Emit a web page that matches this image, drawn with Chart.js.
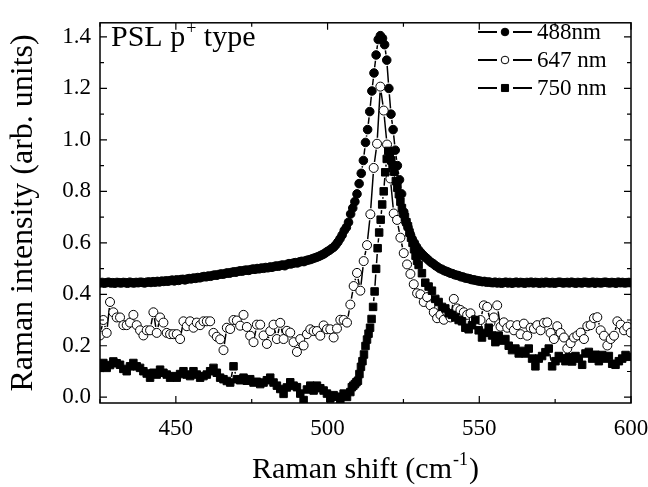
<!DOCTYPE html>
<html>
<head>
<meta charset="utf-8">
<script src="https://cdn.jsdelivr.net/npm/chart.js@4.4.1/dist/chart.umd.min.js"></script>
<style>
  html, body { margin: 0; padding: 0; background: #fff; }
  #wrap { width: 648px; height: 487px; }
</style>
</head>
<body>
<div id="wrap"><canvas id="ramanChart" width="648" height="487"></canvas></div>
<script>
// Raman spectra of p+ porous silicon at three excitation wavelengths.
var seriesLabels = ['488nm', '647 nm', '750 nm'];

// 488 nm: sampled every 0.7 cm-1 from 425 cm-1
var start488 = 425, step488 = 0.7;
var int488 = [
  0.444,0.446,0.443,0.445,0.447,0.444,0.445,0.443,0.446,0.445,
  0.444,0.446,0.445,0.443,0.447,0.445,0.444,0.446,0.445,0.447,
  0.446,0.444,0.447,0.448,0.446,0.449,0.447,0.450,0.448,0.451,
  0.450,0.452,0.451,0.453,0.455,0.452,0.456,0.454,0.457,0.458,
  0.456,0.459,0.461,0.460,0.463,0.462,0.465,0.464,0.467,0.469,
  0.468,0.471,0.470,0.473,0.475,0.474,0.477,0.479,0.478,0.481,
  0.483,0.482,0.485,0.487,0.486,0.489,0.491,0.490,0.493,0.494,
  0.493,0.496,0.498,0.497,0.500,0.499,0.502,0.501,0.504,0.503,
  0.506,0.505,0.508,0.510,0.509,0.512,0.514,0.511,0.516,0.519,
  0.518,0.521,0.523,0.522,0.526,0.528,0.527,0.531,0.533,0.535,
  0.538,0.541,0.544,0.547,0.551,0.555,0.560,0.566,0.571,0.577,
  0.583,0.592,0.603,0.616,0.630,0.648,0.660,0.680,0.712,0.735,
  0.760,0.790,0.830,0.870,0.920,0.990,1.040,1.110,1.190,1.260,
  1.330,1.390,1.405,1.395,1.370,1.310,1.200,1.100,1.040,0.960,
  0.900,0.845,0.790,0.720,0.680,0.660,0.635,0.615,0.600,0.585,
  0.572,0.562,0.553,0.545,0.538,0.530,0.523,0.518,0.511,0.506,
  0.500,0.497,0.492,0.489,0.486,0.482,0.480,0.476,0.474,0.472,
  0.468,0.467,0.463,0.462,0.460,0.457,0.456,0.454,0.452,0.451,
  0.449,0.450,0.447,0.448,0.446,0.445,0.447,0.444,0.446,0.443,
  0.445,0.447,0.444,0.446,0.443,0.445,0.447,0.444,0.446,0.445,
  0.443,0.446,0.445,0.447,0.444,0.446,0.445,0.443,0.446,0.444,
  0.447,0.445,0.444,0.446,0.443,0.445,0.447,0.446,0.444,0.445,
  0.446,0.444,0.447,0.445,0.443,0.446,0.445,0.444,0.447,0.446,
  0.444,0.445,0.447,0.443,0.446,0.445,0.444,0.446,0.447,0.445,
  0.444,0.446,0.445,0.443,0.447,0.445,0.446,0.444,0.445,0.446,
  0.445
];

// 647 nm: sampled every 1.1 cm-1 from 425 cm-1
var start647 = 425, step647 = 1.1;
var int647 = [
  0.24,0.30,0.25,0.37,0.33,0.31,0.31,0.28,0.28,0.29,
  0.32,0.28,0.26,0.24,0.26,0.26,0.33,0.25,0.31,0.29,
  0.25,0.245,0.245,0.245,0.226,0.295,0.276,0.295,0.27,0.29,
  0.28,0.295,0.295,0.295,0.25,0.235,0.225,0.183,0.27,0.265,
  0.30,0.298,0.278,0.32,0.273,0.239,0.214,0.282,0.282,0.24,
  0.207,0.257,0.282,0.226,0.289,0.226,0.258,0.251,0.214,0.176,
  0.226,0.201,0.245,0.264,0.257,0.257,0.239,0.279,0.264,0.264,
  0.232,0.267,0.301,0.30,0.29,0.36,0.432,0.483,0.414,0.529,
  0.591,0.711,0.891,0.985,1.207,1.114,0.982,0.85,0.714,0.689,
  0.62,0.56,0.516,0.479,0.439,0.404,0.40,0.37,0.389,0.357,
  0.33,0.307,0.32,0.301,0.33,0.31,0.382,0.345,0.339,0.33,
  0.32,0.326,0.30,0.28,0.30,0.357,0.351,0.29,0.31,0.357,
  0.274,0.291,0.27,0.28,0.26,0.28,0.245,0.286,0.239,0.27,
  0.266,0.28,0.26,0.289,0.291,0.25,0.226,0.276,0.25,0.232,
  0.189,0.21,0.232,0.24,0.251,0.226,0.276,0.28,0.307,0.311,
  0.26,0.239,0.201,0.226,0.239,0.295,0.282,0.26,0.274,0.251
];

// 750 nm: finer sampling across the peak
var shift750 = [
  425.0,426.1,427.2,428.3,429.4,430.5,431.6,432.7,433.8,434.9,
  436.0,437.1,438.2,439.3,440.4,441.5,442.6,443.7,444.8,445.9,
  447.0,448.1,449.2,450.3,451.4,452.5,453.6,454.7,455.8,456.9,
  458.0,459.1,460.2,461.3,462.4,463.5,464.6,465.7,466.8,467.9,
  469.0,470.1,471.2,472.3,473.4,474.5,475.6,476.7,477.8,478.9,
  480.0,481.1,482.2,483.3,484.4,485.5,486.6,487.7,488.8,489.9,
  491.0,492.1,493.2,494.3,495.4,496.5,497.6,498.7,499.8,500.9,
  502.0,503.1,504.2,505.3,506.4,507.5,
  508.0,508.5,509.0,509.5,510.0,510.5,511.0,511.5,512.0,512.5,
  513.0,513.5,514.0,514.5,515.0,515.5,516.0,516.5,517.0,517.5,
  518.0,518.5,519.0,519.5,520.0,520.5,521.0,521.5,522.0,522.5,
  523.0,523.5,524.0,524.5,525.0,525.5,526.0,526.5,527.0,527.5,
  528.0,528.5,529.0,529.5,530.0,
  531.1,532.2,533.3,534.4,535.5,536.6,537.7,538.8,539.9,541.0,
  542.1,543.2,544.3,545.4,546.5,547.6,548.7,549.8,550.9,552.0,
  553.1,554.2,555.3,556.4,557.5,558.6,559.7,560.8,561.9,563.0,
  564.1,565.2,566.3,567.4,568.5,569.6,570.7,571.8,572.9,574.0,
  575.1,576.2,577.3,578.4,579.5,580.6,581.7,582.8,583.9,585.0,
  586.1,587.2,588.3,589.4,590.5,591.6,592.7,593.8,594.9,596.0,
  597.1,598.2,599.3
];
var int750 = [
  0.114,0.133,0.114,0.125,0.139,0.132,0.126,0.110,0.101,0.120,
  0.133,0.120,0.114,0.101,0.092,0.076,0.095,0.088,0.107,0.095,
  0.088,0.076,0.082,0.076,0.090,0.101,0.088,0.082,0.101,0.088,
  0.076,0.082,0.088,0.101,0.114,0.095,0.076,0.070,0.063,0.057,
  0.120,0.070,0.066,0.076,0.064,0.070,0.057,0.060,0.051,0.057,
  0.066,0.076,0.057,0.045,0.032,0.013,0.038,0.058,0.045,0.039,
  0.014,-0.011,0.030,0.045,0.026,0.045,0.035,0.026,0.014,-0.005,
  0.008,0.002,-0.011,0.014,0.001,0.020,
  0.039,0.045,0.051,0.058,0.064,0.090,0.118,0.140,0.166,0.199,
  0.224,0.247,0.270,0.304,0.351,0.411,0.499,0.579,0.640,0.690,
  0.749,0.800,0.874,0.926,0.957,0.939,0.920,0.901,0.876,0.840,
  0.814,0.789,0.760,0.735,0.714,0.700,0.680,0.664,0.640,0.620,
  0.600,0.575,0.550,0.530,0.514,
  0.482,0.445,0.430,0.414,0.382,0.370,0.351,0.345,0.326,0.320,
  0.310,0.300,0.295,0.270,0.264,0.280,0.300,0.260,0.232,0.250,
  0.270,0.240,0.214,0.239,0.220,0.226,0.200,0.183,0.189,0.170,
  0.180,0.170,0.189,0.150,0.120,0.150,0.160,0.175,0.189,0.120,
  0.140,0.160,0.151,0.140,0.155,0.139,0.160,0.150,0.126,0.170,
  0.176,0.150,0.165,0.140,0.164,0.150,0.160,0.130,0.126,0.140,
  0.150,0.164,0.157
];

// Axis ticks
var xMajor = [450, 500, 550, 600];
var xMinor = [425, 475, 525, 575];
var yMajor = [0.0, 0.2, 0.4, 0.6, 0.8, 1.0, 1.2, 1.4];
var yMinor = [0.1, 0.3, 0.5, 0.7, 0.9, 1.1, 1.3];

var serif = '"Liberation Serif", "Times New Roman", serif';

function gridPoints(start, step, values) {
    return values.map(function (v, i) {
        return { x: +(start + i * step).toFixed(2), y: v };
    });
}
function pairPoints(xs, ys) {
    return ys.map(function (v, i) { return { x: xs[i], y: v }; });
}

// Distance from a marker's centre where its connecting line stops.
function lineGap(ds) {
    return ds.pointStyle === 'rect' ? Math.SQRT1_2 * ds.pointRadius + 2 : ds.pointRadius + 1.5;
}

// Draws one marker in the style of a dataset.
function drawMarker(c, ds, x, y, r) {
    c.beginPath();
    if (ds.pointStyle === 'rect') {
        var s = Math.SQRT1_2 * r;
        c.rect(x - s, y - s, 2 * s, 2 * s);
    } else {
        c.arc(x, y, r, 0, Math.PI * 2);
    }
    c.fillStyle = ds.pointBackgroundColor;
    c.fill();
    c.lineWidth = 1;
    c.strokeStyle = ds.pointBorderColor;
    c.stroke();
}

// Line + symbol, with the line stopping short of every symbol.
var gappedLines = {
    id: 'gappedLines',
    beforeDatasetsDraw: function (chart) {
        var c = chart.ctx, a = chart.chartArea;
        c.save();
        c.beginPath();
        c.rect(a.left, a.top, a.right - a.left, a.bottom - a.top);
        c.clip();
        c.strokeStyle = '#000';
        c.lineWidth = 1.5;
        chart.data.datasets.forEach(function (ds, i) {
            var pts = chart.getDatasetMeta(i).data;
            var gap = lineGap(ds);
            c.beginPath();
            for (var k = 1; k < pts.length; k++) {
                var p0 = pts[k - 1], p1 = pts[k];
                var dx = p1.x - p0.x, dy = p1.y - p0.y;
                var d = Math.sqrt(dx * dx + dy * dy);
                if (d <= 2 * gap + 1) continue;
                var ux = dx / d, uy = dy / d;
                c.moveTo(p0.x + ux * gap, p0.y + uy * gap);
                c.lineTo(p1.x - ux * gap, p1.y - uy * gap);
            }
            c.stroke();
        });
        c.restore();
    }
};

// Frame with inward ticks on all four sides.
var frameTicks = {
    id: 'frameTicks',
    afterDatasetsDraw: function (chart) {
        var c = chart.ctx, a = chart.chartArea;
        var xs = chart.scales.x, ys = chart.scales.y;
        c.save();
        c.strokeStyle = '#000';
        c.lineWidth = 1.5;
        c.strokeRect(a.left, a.top, a.right - a.left, a.bottom - a.top);
        c.lineWidth = 1.2;
        c.beginPath();
        function xt(v, len) {
            var p = xs.getPixelForValue(v);
            c.moveTo(p, a.bottom); c.lineTo(p, a.bottom - len);
            c.moveTo(p, a.top); c.lineTo(p, a.top + len);
        }
        function yt(v, len) {
            var p = ys.getPixelForValue(v);
            c.moveTo(a.left, p); c.lineTo(a.left + len, p);
            c.moveTo(a.right, p); c.lineTo(a.right - len, p);
        }
        xMajor.forEach(function (v) { xt(v, 7); });
        xMinor.forEach(function (v) { xt(v, 4); });
        yMajor.forEach(function (v) { yt(v, 7); });
        yMinor.forEach(function (v) { yt(v, 4); });
        c.stroke();
        c.restore();
    }
};

// Sample label, x-axis title with superscript and the legend.
var labelsAndLegend = {
    id: 'labelsAndLegend',
    afterDraw: function (chart) {
        var c = chart.ctx, a = chart.chartArea;
        c.save();
        c.fillStyle = '#000';
        c.textBaseline = 'alphabetic';
        c.textAlign = 'left';

        // "PSL p+ type"
        var big = '30px ' + serif, sup = '18px ' + serif;
        var x0 = a.left + 11, y0 = 46;
        c.font = big;
        c.fillText('PSL p', x0, y0);
        var w1 = c.measureText('PSL p').width;
        c.font = sup;
        c.fillText('+', x0 + w1 + 1, y0 - 12);
        var w2 = c.measureText('+').width;
        c.font = big;
        c.fillText(' type', x0 + w1 + w2 + 1, y0);

        // x-axis title "Raman shift (cm-1)"
        var partA = 'Raman shift (cm', partB = '-1', partC = ')';
        c.font = big;
        var wa = c.measureText(partA).width, wc = c.measureText(partC).width;
        c.font = sup;
        var wb = c.measureText(partB).width;
        var total = wa + wb + wc + 2;
        var tx = (a.left + a.right) / 2 - total / 2, ty = 478;
        c.font = big;
        c.fillText(partA, tx, ty);
        c.font = sup;
        c.fillText(partB, tx + wa + 1, ty - 13);
        c.font = big;
        c.fillText(partC, tx + wa + wb + 2, ty);

        // legend
        c.font = '23px ' + serif;
        c.textBaseline = 'middle';
        chart.data.datasets.forEach(function (ds, i) {
            var ly = 32 + i * 28;
            c.beginPath();
            c.strokeStyle = '#000';
            c.lineWidth = 1.8;
            c.moveTo(478, ly); c.lineTo(497, ly);
            c.moveTo(513, ly); c.lineTo(532, ly);
            c.stroke();
            drawMarker(c, ds, 505, ly, ds.pointStyle === 'rect' ? 5 : 3.8);
            c.fillStyle = '#000';
            c.fillText(ds.label, 537, ly + 1);
        });
        c.restore();
    }
};

var ctx = document.getElementById('ramanChart').getContext('2d');

new Chart(ctx, {
    type: 'scatter',
    data: {
        datasets: [
            {
                label: seriesLabels[0],
                data: gridPoints(start488, step488, int488),
                pointStyle: 'circle',
                pointRadius: 4.3,
                pointBackgroundColor: '#000',
                pointBorderColor: '#000',
                pointBorderWidth: 1,
                order: 2
            },
            {
                label: seriesLabels[1],
                data: gridPoints(start647, step647, int647),
                pointStyle: 'circle',
                pointRadius: 4.5,
                pointBackgroundColor: '#fff',
                pointBorderColor: '#000',
                pointBorderWidth: 1,
                order: 1
            },
            {
                label: seriesLabels[2],
                data: pairPoints(shift750, int750),
                pointStyle: 'rect',
                pointRadius: 5.3,
                pointBackgroundColor: '#000',
                pointBorderColor: '#000',
                pointBorderWidth: 1,
                order: 0
            }
        ]
    },
    options: {
        responsive: false,
        animation: false,
        devicePixelRatio: 1,
        events: [],
        layout: { padding: { top: 7, right: 0, left: 0, bottom: 0 } },
        plugins: {
            legend: { display: false },
            tooltip: { enabled: false }
        },
        scales: {
            x: {
                type: 'linear',
                min: 425,
                max: 600,
                grid: { display: false, drawTicks: false },
                border: { display: false },
                afterBuildTicks: function (s) { s.ticks = xMajor.map(function (v) { return { value: v }; }); },
                afterFit: function (s) {
                    s.height = 84;
                    s.paddingLeft = 0;
                    s.paddingRight = 17;
                },
                ticks: {
                    padding: 12,
                    color: '#000',
                    font: { family: serif, size: 23 }
                }
            },
            y: {
                type: 'linear',
                min: -0.0225,
                max: 1.455,
                grid: { display: false, drawTicks: false },
                border: { display: false },
                afterBuildTicks: function (s) { s.ticks = yMajor.map(function (v) { return { value: v }; }); },
                afterFit: function (s) { s.width = 100; },
                ticks: {
                    padding: 9,
                    color: '#000',
                    font: { family: serif, size: 23 },
                    callback: function (v) { return Number(v).toFixed(1); }
                },
                title: {
                    display: true,
                    text: 'Raman intensity (arb. units)',
                    color: '#000',
                    font: { family: serif, size: 32 },
                    padding: { top: 4, bottom: 0 }
                }
            }
        }
    },
    plugins: [gappedLines, frameTicks, labelsAndLegend]
});
</script>
</body>
</html>
